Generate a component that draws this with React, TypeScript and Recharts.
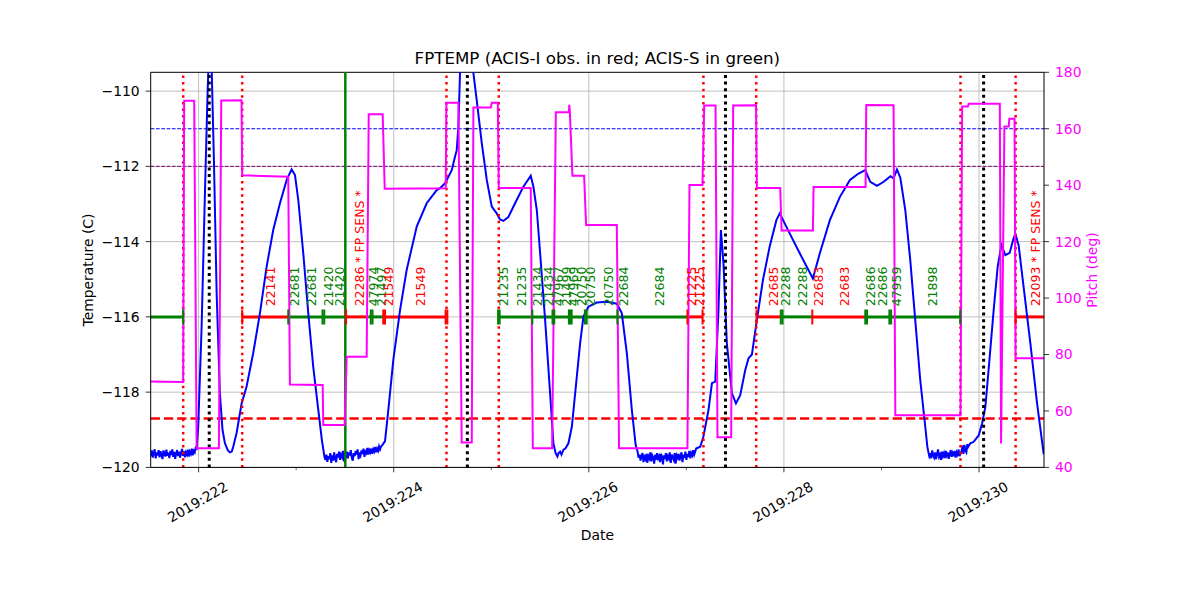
import React from 'react';
import { ComposedChart, Line, XAxis, YAxis, ReferenceLine, Scatter } from 'recharts';

const FONT = '"DejaVu Sans", sans-serif';

// axis ticks
const tempTicks = [-120, -118, -116, -114, -112, -110];
const pitchTicks = [40, 60, 80, 100, 120, 140, 160, 180];
const dayTicks = [222, 223, 224, 225, 226, 227, 228, 229, 230];
const majorDays = [222, 224, 226, 228, 230];
const majorLabels = ['2019:222', '2019:224', '2019:226', '2019:228', '2019:230'];

// limit lines (deg C)
const PLAN_LIMIT = -111.0;
const CAUTION_LIMIT = -112.0;
const ACIS_I_LIMIT = -118.7;
const OBS_LEVEL = -116.0;
const LABEL_LEVEL = -115.72;

// event times (fractional day of year)
const radZoneTimes = [221.842, 222.447, 224.541, 225.077, 227.175, 227.716, 229.81, 230.375];
const perigeeTimes = [222.109, 224.755, 227.401, 230.047];
const loadStartTimes = [223.504];

// FPTEMP trace [day, degC]
const tempTrace: [number, number][] = [
  [221.50, -119.58], [221.51, -119.70], [221.52, -119.55], [221.53, -119.74], [221.54, -119.62], [221.55, -119.52], [221.56, -119.76], [221.57, -119.60],
  [221.58, -119.68], [221.59, -119.54], [221.60, -119.73], [221.61, -119.57], [221.62, -119.66], [221.63, -119.78], [221.64, -119.55], [221.65, -119.64],
  [221.66, -119.71], [221.67, -119.53], [221.68, -119.69], [221.69, -119.61], [221.70, -119.75], [221.71, -119.56], [221.72, -119.67], [221.73, -119.52],
  [221.74, -119.72], [221.75, -119.59], [221.76, -119.77], [221.77, -119.63], [221.78, -119.54], [221.79, -119.70], [221.80, -119.58], [221.81, -119.74],
  [221.82, -119.62], [221.83, -119.51], [221.84, -119.69], [221.85, -119.57], [221.86, -119.73], [221.87, -119.60], [221.88, -119.66], [221.89, -119.53],
  [221.90, -119.71], [221.91, -119.58], [221.92, -119.64], [221.93, -119.50], [221.94, -119.68], [221.95, -119.56], [221.96, -119.60], [221.97, -119.48],
  [221.98, -119.50], [221.996, -118.92], [222.031, -116.26], [222.065, -112.71], [222.092, -110.05], [222.106, -109.0], [222.12, -108.4], [222.133, -109.3],
  [222.157, -111.83], [222.185, -115.37], [222.218, -118.03], [222.245, -119.0], [222.27, -119.36], [222.30, -119.55], [222.321, -119.6], [222.34, -119.58],
  [222.355, -119.45], [222.39, -119.08], [222.441, -118.3], [222.492, -117.85], [222.56, -116.96], [222.629, -115.9], [222.697, -114.67], [222.765, -113.69],
  [222.834, -112.98], [222.903, -112.36], [222.954, -112.08], [222.988, -112.23], [223.022, -112.9], [223.073, -114.31], [223.124, -115.9], [223.175, -117.32],
  [223.227, -118.47], [223.265, -119.3],
  [223.28, -119.55], [223.29, -119.72], [223.30, -119.80], [223.31, -119.66], [223.32, -119.85], [223.33, -119.70], [223.34, -119.78], [223.35, -119.62],
  [223.36, -119.88], [223.37, -119.68], [223.38, -119.82], [223.39, -119.60], [223.40, -119.76], [223.41, -119.86], [223.42, -119.64], [223.43, -119.74],
  [223.44, -119.58], [223.45, -119.80], [223.46, -119.66], [223.47, -119.72], [223.48, -119.56], [223.49, -119.84], [223.50, -119.62], [223.51, -119.70],
  [223.52, -119.58], [223.53, -119.76], [223.54, -119.60], [223.55, -119.68], [223.56, -119.54], [223.57, -119.74], [223.58, -119.82], [223.59, -119.62],
  [223.60, -119.70], [223.61, -119.56], [223.62, -119.66], [223.63, -119.52], [223.64, -119.78], [223.65, -119.60], [223.66, -119.68], [223.67, -119.55],
  [223.68, -119.64], [223.69, -119.50], [223.70, -119.72], [223.71, -119.58], [223.72, -119.62], [223.73, -119.48], [223.74, -119.66], [223.75, -119.54],
  [223.76, -119.60], [223.77, -119.50], [223.78, -119.64], [223.79, -119.52], [223.80, -119.58], [223.81, -119.46], [223.82, -119.60], [223.83, -119.50],
  [223.84, -119.56], [223.85, -119.44], [223.86, -119.52], [223.87, -119.45],
  [223.885, -119.40], [223.911, -119.30], [223.945, -118.47], [223.996, -117.14], [224.065, -115.82], [224.133, -114.75], [224.236, -113.6], [224.338, -112.98],
  [224.441, -112.63], [224.475, -112.58], [224.526, -112.45], [224.595, -112.1], [224.629, -111.74], [224.646, -111.57], [224.663, -110.95], [224.68, -109.5],
  [224.745, -107.6], [224.816, -109.5], [224.851, -110.24], [224.903, -111.39], [224.954, -112.36], [225.005, -113.07], [225.056, -113.25], [225.09, -113.41],
  [225.124, -113.45], [225.175, -113.35], [225.244, -112.98], [225.329, -112.54], [225.405, -112.25], [225.432, -112.54], [225.467, -113.16], [225.501, -114.31],
  [225.552, -116.08], [225.603, -118.03], [225.637, -119.36], [225.66, -119.62], [225.678, -119.71], [225.69, -119.62], [225.706, -119.58], [225.72, -119.66],
  [225.74, -119.53], [225.76, -119.50], [225.791, -119.36], [225.826, -118.92], [225.877, -117.59], [225.911, -116.7], [225.945, -115.99], [225.996, -115.73],
  [226.082, -115.62], [226.185, -115.6], [226.287, -115.65], [226.338, -115.9], [226.39, -116.97], [226.441, -118.47], [226.48, -119.4],
  [226.50, -119.58], [226.51, -119.74], [226.52, -119.66], [226.53, -119.82], [226.54, -119.70], [226.55, -119.62], [226.56, -119.86], [226.57, -119.72],
  [226.58, -119.78], [226.59, -119.64], [226.60, -119.88], [226.61, -119.70], [226.62, -119.76], [226.63, -119.60], [226.64, -119.84], [226.65, -119.68],
  [226.66, -119.74], [226.67, -119.90], [226.68, -119.66], [226.69, -119.80], [226.70, -119.62], [226.71, -119.76], [226.72, -119.70], [226.73, -119.86],
  [226.74, -119.64], [226.75, -119.72], [226.76, -119.92], [226.77, -119.68], [226.78, -119.78], [226.79, -119.62], [226.80, -119.84], [226.81, -119.70],
  [226.82, -119.76], [226.83, -119.60], [226.84, -119.88], [226.85, -119.66], [226.86, -119.74], [226.87, -119.80], [226.88, -119.62], [226.89, -119.90],
  [226.90, -119.68], [226.91, -119.74], [226.92, -119.64], [226.93, -119.82], [226.94, -119.70], [226.95, -119.60], [226.96, -119.86], [226.97, -119.66],
  [226.98, -119.74], [226.99, -119.58], [227.00, -119.80], [227.01, -119.64], [227.02, -119.72], [227.03, -119.56], [227.04, -119.76], [227.05, -119.62],
  [227.06, -119.68], [227.07, -119.54], [227.08, -119.66], [227.09, -119.58], [227.10, -119.50],
  [227.142, -119.45], [227.175, -119.18], [227.227, -118.47], [227.262, -117.76], [227.296, -117.72], [227.329, -115.82], [227.354, -113.69], [227.381, -114.6],
  [227.415, -116.7], [227.467, -118.03], [227.508, -118.3], [227.552, -118.08], [227.603, -117.42], [227.637, -117.1], [227.672, -117.0], [227.723, -116.08],
  [227.785, -115.02], [227.854, -114.13], [227.923, -113.43], [227.957, -113.25], [228.059, -113.78], [228.162, -114.31], [228.297, -114.98], [228.368, -114.31],
  [228.471, -113.43], [228.574, -112.81], [228.677, -112.36], [228.765, -112.19], [228.834, -112.1], [228.885, -112.41], [228.954, -112.52], [229.023, -112.41],
  [229.092, -112.26], [229.124, -112.32], [229.159, -112.08], [229.193, -112.3], [229.244, -113.16], [229.295, -114.49], [229.346, -116.08], [229.397, -117.67],
  [229.449, -118.92], [229.47, -119.45],
  [229.48, -119.58], [229.49, -119.70], [229.50, -119.62], [229.51, -119.76], [229.52, -119.55], [229.53, -119.68], [229.54, -119.74], [229.55, -119.60],
  [229.56, -119.78], [229.57, -119.64], [229.58, -119.52], [229.59, -119.72], [229.60, -119.66], [229.61, -119.80], [229.62, -119.58], [229.63, -119.70],
  [229.64, -119.62], [229.65, -119.75], [229.66, -119.56], [229.67, -119.68], [229.68, -119.60], [229.69, -119.77], [229.70, -119.64], [229.71, -119.54],
  [229.72, -119.72], [229.73, -119.62], [229.74, -119.70], [229.75, -119.56], [229.76, -119.74], [229.77, -119.60], [229.78, -119.66], [229.79, -119.52],
  [229.80, -119.70], [229.81, -119.62], [229.82, -119.58], [229.83, -119.42], [229.84, -119.64], [229.85, -119.40], [229.86, -119.55], [229.87, -119.60],
  [229.88, -119.38], [229.89, -119.45],
  [229.911, -119.36], [229.945, -119.32], [229.996, -119.15], [230.031, -118.84], [230.065, -118.39], [230.098, -117.41], [230.15, -115.82], [230.191, -114.67],
  [230.229, -114.09], [230.27, -114.36], [230.314, -114.3], [230.349, -113.96], [230.372, -113.78], [230.406, -114.1], [230.457, -115.2], [230.526, -116.7],
  [230.595, -118.3], [230.663, -119.65],
];

// pitch trace [day, deg]
const pitchTrace: [number, number][] = [
  [221.50, 70.4], [221.842, 70.3], [221.852, 169.9], [221.955, 169.9], [221.98, 46.8], [222.208, 46.8], [222.232, 170.0], [222.44, 170.1],
  [222.447, 143.5], [222.919, 143.0], [222.936, 69.4], [223.272, 69.2], [223.278, 55.0], [223.497, 55.0], [223.518, 79.2], [223.723, 79.2],
  [223.744, 165.1], [223.887, 165.1], [223.908, 138.7], [224.533, 138.9], [224.54, 169.2], [224.663, 169.2], [224.697, 48.8], [224.80, 48.8],
  [224.817, 167.5], [224.995, 167.5], [225.005, 169.2], [225.067, 169.2], [225.077, 139.0], [225.405, 139.0], [225.426, 46.8], [225.624, 46.8],
  [225.662, 165.8], [225.795, 165.8], [225.80, 168.5], [225.806, 165.8], [225.832, 143.3], [225.952, 143.3], [225.972, 125.9], [226.287, 125.9],
  [226.31, 46.8], [227.011, 46.8], [227.032, 140.1], [227.165, 140.1], [227.183, 168.2], [227.299, 168.2], [227.319, 50.7], [227.459, 50.7],
  [227.48, 168.2], [227.714, 168.3], [227.723, 139.0], [227.962, 139.0], [227.976, 123.9], [228.297, 123.9], [228.304, 139.4], [228.837, 139.4],
  [228.844, 168.4], [229.124, 168.3], [229.142, 58.5], [229.81, 58.5], [229.827, 167.9], [229.885, 167.9], [229.895, 168.9], [230.213, 168.9],
  [230.226, 48.5], [230.26, 160.8], [230.305, 160.8], [230.31, 163.5], [230.364, 163.5], [230.375, 78.7], [230.666, 78.7],
];

// observations: I = ACIS-I (red), S = ACIS-S (green)
const obsSegments = [
  { start: 221.509, stop: 221.842, inst: 'S' },
  { start: 222.447, stop: 222.919, inst: 'I' },
  { start: 222.919, stop: 223.508, inst: 'S' },
  { start: 223.508, stop: 223.74, inst: 'I' },
  { start: 223.74, stop: 223.901, inst: 'S' },
  { start: 223.901, stop: 224.541, inst: 'I' },
  { start: 225.075, stop: 227.011, inst: 'S' },
  { start: 227.011, stop: 227.17, inst: 'I' },
  { start: 227.719, stop: 227.977, inst: 'I' },
  { start: 227.977, stop: 228.294, inst: 'S' },
  { start: 228.294, stop: 228.843, inst: 'I' },
  { start: 228.843, stop: 229.807, inst: 'S' },
  { start: 230.375, stop: 230.666, inst: 'I' },
];

const obsCaps = [
  { x: 221.842, inst: 'S' }, { x: 222.447, inst: 'I' }, { x: 222.919, inst: 'S' },
  { x: 223.27, inst: 'S' }, { x: 223.288, inst: 'S' }, { x: 223.512, inst: 'I' },
  { x: 223.765, inst: 'S' }, { x: 223.783, inst: 'S' }, { x: 223.893, inst: 'I' }, { x: 223.911, inst: 'I' },
  { x: 224.532, inst: 'I' }, { x: 224.55, inst: 'I' }, { x: 225.07, inst: 'S' }, { x: 225.086, inst: 'S' },
  { x: 225.421, inst: 'S' }, { x: 225.628, inst: 'S' }, { x: 225.646, inst: 'S' },
  { x: 225.796, inst: 'S' }, { x: 225.81, inst: 'S' }, { x: 225.824, inst: 'S' },
  { x: 225.96, inst: 'S' }, { x: 225.978, inst: 'S' }, { x: 226.293, inst: 'S' },
  { x: 227.011, inst: 'I' }, { x: 227.166, inst: 'I' }, { x: 227.719, inst: 'I' },
  { x: 227.968, inst: 'S' }, { x: 227.986, inst: 'S' }, { x: 228.291, inst: 'I' },
  { x: 228.834, inst: 'S' }, { x: 228.852, inst: 'S' }, { x: 229.081, inst: 'S' }, { x: 229.099, inst: 'S' },
  { x: 229.807, inst: 'S' }, { x: 230.375, inst: 'I' },
];

const obsLabels = [
  { x: 222.742, text: '22141', inst: 'I' },
  { x: 222.981, text: '22681', inst: 'S' },
  { x: 223.159, text: '22681', inst: 'S' },
  { x: 223.329, text: '21420', inst: 'S' },
  { x: 223.449, text: '21420', inst: 'S' },
  { x: 223.654, text: '22286 * FP SENS *', inst: 'I' },
  { x: 223.791, text: '47974', inst: 'S' },
  { x: 223.87, text: '21497', inst: 'S' },
  { x: 223.945, text: '21549', inst: 'I' },
  { x: 224.277, text: '21549', inst: 'I' },
  { x: 225.124, text: '21235', inst: 'S' },
  { x: 225.313, text: '21235', inst: 'S' },
  { x: 225.477, text: '21434', inst: 'S' },
  { x: 225.586, text: '21434', inst: 'S' },
  { x: 225.688, text: '47967', inst: 'S' },
  { x: 225.767, text: '21499', inst: 'S' },
  { x: 225.842, text: '47969', inst: 'S' },
  { x: 225.928, text: '20750', inst: 'S' },
  { x: 226.013, text: '20750', inst: 'S' },
  { x: 226.201, text: '20750', inst: 'S' },
  { x: 226.355, text: '22684', inst: 'S' },
  { x: 226.724, text: '22684', inst: 'S' },
  { x: 227.056, text: '21225', inst: 'I' },
  { x: 227.134, text: '21225', inst: 'I' },
  { x: 227.893, text: '22685', inst: 'I' },
  { x: 228.021, text: '22288', inst: 'S' },
  { x: 228.195, text: '22288', inst: 'S' },
  { x: 228.355, text: '22683', inst: 'I' },
  { x: 228.622, text: '22683', inst: 'I' },
  { x: 228.885, text: '22686', inst: 'S' },
  { x: 229.011, text: '22686', inst: 'S' },
  { x: 229.159, text: '47959', inst: 'S' },
  { x: 229.524, text: '21898', inst: 'S' },
  { x: 230.578, text: '22093 * FP SENS *', inst: 'I' },
];

const instColor: Record<string, string> = { I: '#ff0000', S: '#008000' };

const tempData = tempTrace.map(([x, t]) => ({ x, t }));
const pitchData = pitchTrace.map(([x, p]) => ({ x, p }));
const capData = obsCaps.map((c) => ({ ...c, y: OBS_LEVEL }));
const labelData = obsLabels.map((l) => ({ ...l, y: LABEL_LEVEL }));

const fmtMinus = (v: number) => (v < 0 ? '\u2212' + Math.abs(v) : String(v));

const DayTick = (props: any) => {
  const { x, y, payload } = props;
  const idx = majorDays.indexOf(payload.value);
  const major = idx >= 0;
  return (
    <g>
      <line x1={x} x2={x} y1={y} y2={y + (major ? 4.9 : 2.8)} stroke="#000" strokeWidth={major ? 0.8 : 0.6} />
      {major && (
        <text
          x={x - 1}
          y={y + 34.5}
          textAnchor="middle"
          dominantBaseline="central"
          transform={`rotate(-30 ${x - 1} ${y + 34.5})`}
          fontSize={13.9}
          fontFamily={FONT}
          fill="#000"
        >
          {majorLabels[idx]}
        </text>
      )}
    </g>
  );
};

const CapShape = (props: any) => {
  const { cx, cy } = props;
  const inst = props.payload?.inst ?? props.inst;
  return <line x1={cx} x2={cx} y1={cy - 7.5} y2={cy + 7.5} stroke={instColor[inst]} strokeWidth={2} />;
};

const LabelShape = (props: any) => {
  const { cx, cy } = props;
  const d = props.payload ?? props;
  return (
    <text
      x={cx}
      y={cy}
      transform={`rotate(-90 ${cx} ${cy})`}
      textAnchor="start"
      dominantBaseline="central"
      fill={instColor[d.inst]}
      fontSize={12.5}
      fontFamily={FONT}
    >
      {d.text}
    </text>
  );
};

export default function App() {
  return (
    <div style={{ position: 'absolute', left: 0, top: 0, width: 1200, height: 600, background: '#fff', fontFamily: FONT }}>
      <ComposedChart width={1200} height={600} margin={{ top: 72.3, right: 0, bottom: 0, left: 0 }}>
        <XAxis
          dataKey="x"
          type="number"
          domain={[221.509, 230.666]}
          allowDataOverflow
          ticks={dayTicks}
          interval={0}
          tick={(p: any) => <DayTick {...p} />}
          tickLine={false}
          tickSize={0}
          tickMargin={0}
          height={132.6}
          axisLine={{ stroke: '#000', strokeWidth: 1 }}
        />
        <YAxis
          yAxisId="temp"
          type="number"
          domain={[-120, -109.5]}
          allowDataOverflow
          ticks={tempTicks}
          interval={0}
          width={150.7}
          tickSize={5}
          tickMargin={6}
          stroke="#000"
          tickFormatter={fmtMinus}
          tick={{ fill: '#000', fontSize: 13.9, fontFamily: FONT }}
          axisLine={{ stroke: '#000', strokeWidth: 1 }}
          tickLine={{ stroke: '#000', strokeWidth: 0.8 }}
        />
        <YAxis
          yAxisId="pitch"
          orientation="right"
          type="number"
          domain={[40, 180]}
          allowDataOverflow
          ticks={pitchTicks}
          interval={0}
          width={156}
          tickSize={5}
          tickMargin={6}
          stroke="#000"
          tick={{ fill: '#ff00ff', fontSize: 13.9, fontFamily: FONT }}
          axisLine={{ stroke: '#000', strokeWidth: 1 }}
          tickLine={{ stroke: '#000', strokeWidth: 0.8 }}
        />

        {majorDays.map((d) => (
          <ReferenceLine key={'gx' + d} yAxisId="temp" x={d} stroke="#b0b0b0" strokeWidth={0.8} />
        ))}
        {tempTicks.map((t) => (
          <ReferenceLine key={'gy' + t} yAxisId="temp" y={t} stroke="#b0b0b0" strokeWidth={0.8} />
        ))}
        <ReferenceLine yAxisId="temp" y={-109.5} stroke="#000" strokeWidth={1} />

        <ReferenceLine yAxisId="temp" y={PLAN_LIMIT} stroke="#0000ff" strokeWidth={1} strokeDasharray="3.7 1.6" />
        <ReferenceLine yAxisId="temp" y={CAUTION_LIMIT} stroke="#800080" strokeWidth={1} strokeDasharray="3.7 1.6" />
        <ReferenceLine yAxisId="temp" y={ACIS_I_LIMIT} stroke="#ff0000" strokeWidth={2.5} strokeDasharray="9.25 4" />

        {obsSegments.map((s, i) => (
          <ReferenceLine
            key={'seg' + i}
            yAxisId="temp"
            segment={[{ x: s.start, y: OBS_LEVEL }, { x: s.stop, y: OBS_LEVEL }]}
            stroke={instColor[s.inst]}
            strokeWidth={3}
          />
        ))}
        <Scatter yAxisId="temp" data={capData} dataKey="y" shape={CapShape} isAnimationActive={false} />
        <Scatter yAxisId="temp" data={labelData} dataKey="y" shape={LabelShape} isAnimationActive={false} />

        <Line
          yAxisId="temp"
          data={tempData}
          dataKey="t"
          type="linear"
          stroke="#0000ff"
          strokeWidth={2}
          dot={false}
          activeDot={false}
          isAnimationActive={false}
        />

        {radZoneTimes.map((t) => (
          <ReferenceLine key={'rz' + t} yAxisId="temp" x={t} stroke="#ff0000" strokeWidth={2.5} strokeDasharray="2.5 4.1" />
        ))}
        {perigeeTimes.map((t) => (
          <ReferenceLine key={'pg' + t} yAxisId="temp" x={t} stroke="#000" strokeWidth={3} strokeDasharray="3 3.6" />
        ))}
        {loadStartTimes.map((t) => (
          <ReferenceLine key={'ld' + t} yAxisId="temp" x={t} stroke="#008000" strokeWidth={2.5} />
        ))}

        <Line
          yAxisId="pitch"
          data={pitchData}
          dataKey="p"
          type="linear"
          stroke="#ff00ff"
          strokeWidth={2}
          dot={false}
          activeDot={false}
          isAnimationActive={false}
        />
      </ComposedChart>

      <div style={{ position: 'absolute', left: 0, width: 1194.7, top: 47, lineHeight: '22px', textAlign: 'center', fontSize: 16.7, color: '#000' }}>
        FPTEMP (ACIS-I obs. in red; ACIS-S in green)
      </div>
      <div style={{ position: 'absolute', left: 0, width: 1194.7, top: 525, lineHeight: '20px', textAlign: 'center', fontSize: 13.9, color: '#000' }}>
        Date
      </div>
      <div style={{ position: 'absolute', left: 88, top: 270, transform: 'translate(-50%, -50%) rotate(-90deg)', whiteSpace: 'nowrap', fontSize: 13.9, color: '#000' }}>
        Temperature (C)
      </div>
      <div style={{ position: 'absolute', left: 1092, top: 270, transform: 'translate(-50%, -50%) rotate(-90deg)', whiteSpace: 'nowrap', fontSize: 13.9, color: '#ff00ff' }}>
        Pitch (deg)
      </div>
    </div>
  );
}
